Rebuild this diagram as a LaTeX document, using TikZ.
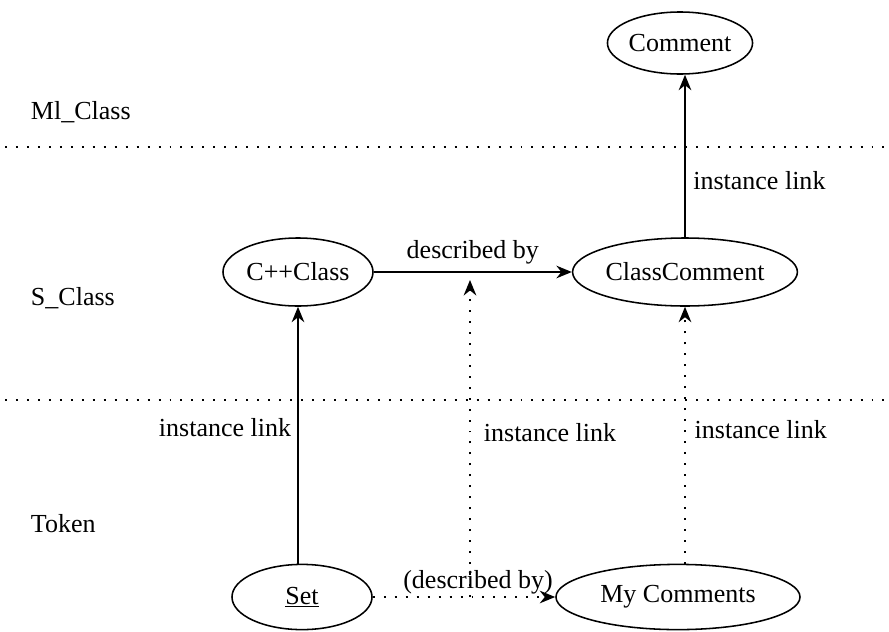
\documentclass[tikz,border=0pt]{standalone}
\usepackage{fontspec}
\setmainfont{Liberation Serif}
\usetikzlibrary{arrows.meta,shapes.geometric}

\begin{document}
\begin{tikzpicture}[x=0.025cm,y=-0.025cm,
    every node/.style={font=\fontsize{18.5}{22}\selectfont},
    obj/.style={draw,ellipse,line width=1.1pt,inner sep=0pt},
    link/.style={line width=1.1pt,-{Stealth[length=11pt,width=9pt]}},
    dotlink/.style={link,dash pattern=on 1.4pt off 6.4pt},
    sep/.style={line width=1.3pt,dash pattern=on 1.4pt off 6.4pt}]
    \useasboundingbox (0,0) rectangle (889,632);

    % levels
    \node[anchor=west] (mlclass) at (26,112) {Ml\_Class};
    \node[anchor=west] (sclass) at (26,298) {S\_Class};
    \node[anchor=west] (token) at (26,524) {Token};
    \draw[sep] (5,147) -- (889,147);
    \draw[sep] (5,400) -- (889,400);

    % objects
    \node[obj,minimum width=3.25cm,minimum height=1.55cm] (comment) at (680,43) {Comment};
    \node[obj,minimum width=3.75cm,minimum height=1.7cm] (cppclass) at (298,272) {C++Class};
    \node[obj,minimum width=5.4cm,minimum height=1.7cm] (classcom) at (685,272) {ClassComment};
    \node[obj,minimum width=3.5cm,minimum height=1.63cm] (set) at (302,597) {\underline{Set}};
    \node[obj,minimum width=6.1cm,minimum height=1.63cm] (mycom) at (678,597) {My Comments};

    % links
    \draw[link] (classcom.north) -- (classcom.north |- comment.south) node[pos=0.35,right,xshift=2pt] {instance link};
    \draw[link] (cppclass.east) -- (classcom.west) node[midway,above,yshift=2pt] {described by};
    \draw[link] (set.north -| cppclass.south) -- (cppclass.south) node[pos=0.53,left,xshift=-1pt] {instance link};
    \draw[dotlink] (mycom.north -| classcom.south) -- (classcom.south) node[pos=0.52,right,xshift=3pt] {instance link};
    \draw[dotlink] (set.east) -- (mycom.west) node[midway,above,xshift=10pt,yshift=-2pt] {(described by)};

    \coordinate (lowmid) at (470,597);
    \coordinate (upmid) at (470,280);
    \draw[dotlink] (lowmid) -- (upmid) node[pos=0.52,right,xshift=6pt] {instance link};
\end{tikzpicture}
\end{document}
